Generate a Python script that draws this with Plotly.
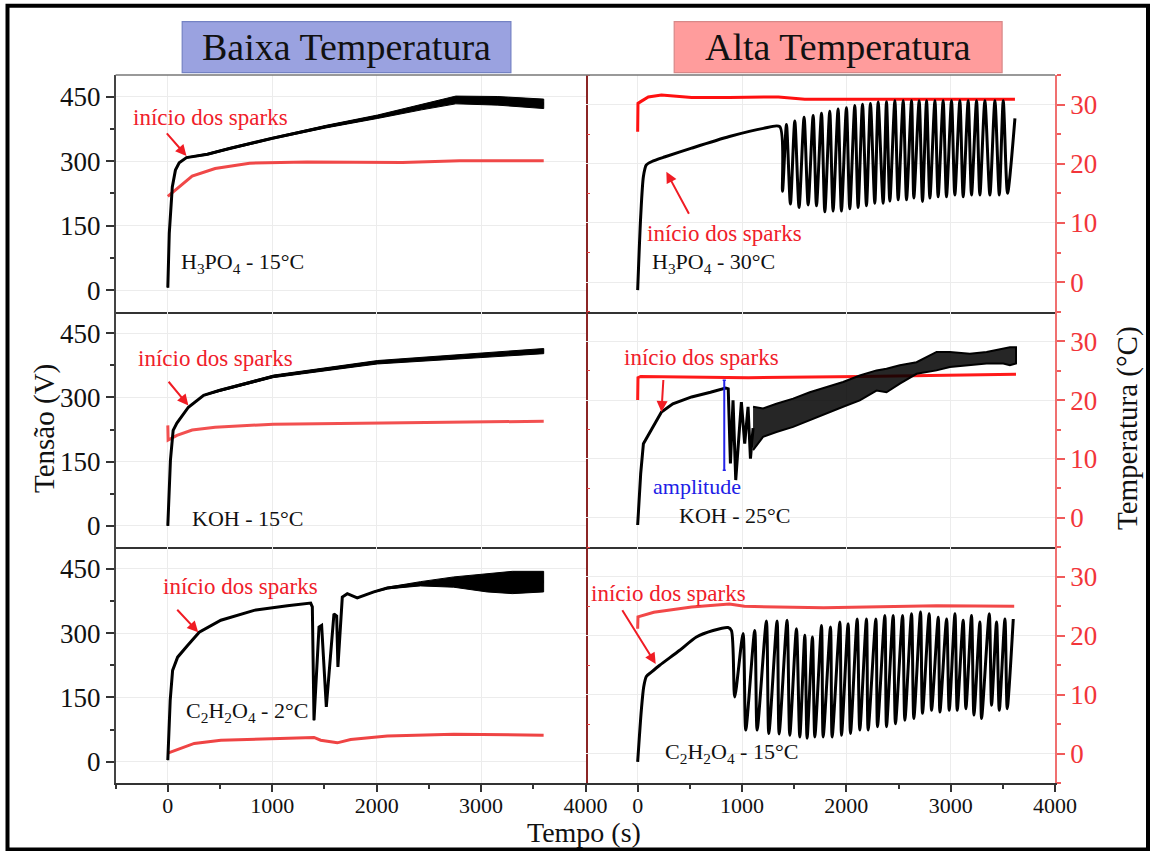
import plotly.graph_objects as go

W, H = 1151, 851
SERIF = "Liberation Serif"

# ---------------- data: time (s), tension (V), temperature (°C) ----------------
# H3PO4 - 15 °C
h3_15_t = [0, 14, 43, 73, 109, 179, 380, 600, 1002, 1514, 2008, 2429, 2758, 3161, 3600]
h3_15_v = [6, 132, 240, 279, 296, 308, 316, 330, 353, 380, 403, 425, 442, 440, 433]
h3_15_noise = [0, 0, 0, 0, 0, 1, 2, 2, 2, 3, 4, 6, 9, 10, 11]
h3_15_temp_t = [0, 87, 233, 453, 783, 1332, 2246, 2795, 3600]
h3_15_temp = [14.5, 15.8, 17.9, 19.2, 20.1, 20.3, 20.2, 20.5, 20.5]

# H3PO4 - 30 °C
h3_30_t = [0, 29, 55, 83, 137, 264, 517, 879, 1204, 1362,
           1388, 1426, 1464, 1506, 1547, 1595, 1634, 1682, 1714, 1762, 1794, 1841, 1873, 1921,
           1953, 2001, 2033, 2081, 2113, 2155, 2193, 2231, 2273, 2305, 2353, 2385, 2417, 2465,
           2497, 2545, 2577, 2625, 2647, 2698, 2730, 2769, 2801, 2849, 2880, 2928, 2960, 3008,
           3040, 3088, 3120, 3168, 3200, 3248, 3280, 3328, 3376, 3424, 3466, 3504, 3545, 3616]
h3_30_v = [0, 171, 264, 291, 299, 310, 330, 357, 376, 380,
           230, 385, 200, 393, 192, 402, 198, 406, 196, 411, 182, 416, 184, 421,
           184, 424, 189, 429, 192, 432, 196, 434, 202, 437, 202, 438, 207, 440,
           210, 440, 210, 440, 214, 440, 206, 440, 214, 440, 217, 440, 217, 440,
           221, 440, 217, 440, 221, 440, 221, 440, 221, 440, 221, 440, 225, 399]
h3_30_temp_t = [0, 3, 29, 102, 228, 517, 879, 1349, 1602, 2505, 3616]
h3_30_temp = [25.4, 30.2, 30.5, 31.3, 31.6, 31.2, 31.2, 31.3, 30.9, 30.9, 30.9]

# KOH - 15 °C
koh_15_t = [0, 25, 51, 87, 197, 343, 490, 1010, 2008, 2996, 3600]
koh_15_v = [0, 153, 223, 240, 277, 305, 316, 349, 382, 398, 408]
koh_15_noise = [0, 0, 0, 0, 0, 1, 2, 3, 4, 5, 6]
koh_15_temp_t = [0, 3, 87, 233, 453, 1010, 2063, 3600]
koh_15_temp = [15.7, 13.2, 14.0, 14.9, 15.4, 15.9, 16.1, 16.4]

# KOH - 25 °C
koh_25_t = [0, 29, 55, 102, 228, 337, 517, 698, 843, 868, 889, 914, 940, 994, 1026, 1058, 1081, 1106]
koh_25_v = [2, 122, 192, 212, 266, 285, 301, 312, 322, 320, 146, 293, 107, 289, 192, 278, 157, 228]
koh_25_band_t = [1106, 1202, 1330, 1490, 1650, 1810, 1969, 2129, 2289, 2385, 2513, 2673, 2865,
                 2992, 3184, 3344, 3504, 3568, 3626]
koh_25_band_hi = [278, 274, 285, 297, 312, 324, 336, 351, 363, 367, 375, 382, 406, 406, 402, 406, 413, 417, 417]
koh_25_band_lo = [177, 208, 219, 231, 246, 262, 278, 293, 316, 312, 332, 355, 363, 371, 375, 379, 379, 375, 379]
koh_25_temp_t = [0, 3, 29, 1060, 2144, 3626]
koh_25_temp = [20.0, 23.8, 24.0, 23.8, 24.0, 24.4]

# C2H2O4 - 2 °C
c2_2_t = [0, 23, 46, 94, 189, 301, 508, 826, 1145, 1368, 1384, 1400, 1448, 1473, 1518, 1591,
          1617, 1629, 1671, 1719, 1814, 1973, 2102, 2420, 2738, 3057, 3300, 3599]
c2_2_v = [4, 144, 213, 244, 271, 302, 330, 353, 364, 370, 361, 97, 314, 318, 128, 345,
          340, 221, 384, 392, 382, 396, 405, 415, 419, 417, 418, 420]
c2_2_noise = [0, 0, 0, 0, 0, 0, 0, 0, 0, 0, 0, 0, 0, 0, 0, 0,
              0, 0, 0, 0, 0, 1, 2, 5, 12, 21, 26, 24]
c2_2_temp_t = [0, 94, 253, 508, 986, 1400, 1464, 1623, 1751, 2102, 2738, 3599]
c2_2_temp = [0.1, 0.74, 1.76, 2.3, 2.6, 2.77, 2.3, 1.86, 2.43, 3.0, 3.3, 3.16]

# C2H2O4 - 15 °C
c2_15_t = [0, 35, 58, 83, 131, 211, 403, 563, 723, 866, 899,
           930, 1010, 1036, 1122, 1145, 1234, 1257, 1336, 1356, 1432, 1458, 1522, 1554, 1602,
           1624, 1675, 1698, 1762, 1778, 1848, 1864, 1938, 1954, 2017, 2040, 2104, 2129, 2193,
           2209, 2283, 2299, 2369, 2385, 2449, 2471, 2539, 2561, 2625, 2647, 2711, 2730, 2794,
           2817, 2881, 2897, 2961, 2986, 3041, 3063, 3120, 3146, 3200, 3223, 3280, 3296, 3370,
           3392, 3440, 3466, 3520, 3542, 3600]
c2_15_v = [0, 120, 175, 199, 209, 225, 260, 291, 306, 313, 306,
           151, 299, 74, 306, 74, 328, 66, 328, 65, 330, 62, 310, 58, 295,
           55, 291, 58, 318, 58, 314, 58, 326, 62, 322, 66, 333, 74, 333,
           74, 333, 82, 341, 82, 341, 89, 341, 97, 345, 101, 349, 113, 345,
           120, 337, 116, 333, 120, 345, 120, 330, 124, 341, 109, 326, 101, 345,
           132, 326, 120, 333, 124, 333]
c2_15_temp_t = [0, 3, 155, 517, 879, 1023, 1783, 2867, 3609]
c2_15_temp = [21.2, 23.2, 24.0, 24.9, 25.4, 25.0, 24.75, 25.1, 25.0]

# axis settings
T_RANGE = [-500, 4000]
V_RANGE = [-50, 500]
TEMP_RANGE = [-5, 35]

# --------------------------------------------------------------------------------
def px_x(p):
    return p / W

def px_y(p):
    return 1 - p / H

XDOM = [[px_x(115.6), px_x(585.5)], [px_x(585.5), px_x(1055)]]
ROWS = [(75, 311.7), (311.7, 547.3), (547.3, 783.3)]
YDOM = [[px_y(b), px_y(t)] for t, b in ROWS]

fig = go.Figure()
layout = dict(
    width=W, height=H, autosize=False, margin=dict(l=0, r=0, t=0, b=0, pad=0),
    paper_bgcolor="white", plot_bgcolor="white", showlegend=False,
    font=dict(family=SERIF, color="#111"),
)

GRID = "#ececec"
RED_LBL = "#f2353a"

def refs(k):
    x = "x" if k == 1 else f"x{k}"
    xa = "xaxis" if k == 1 else f"xaxis{k}"
    tb, vb = 2 * k - 1, 2 * k
    ty = "y" if tb == 1 else f"y{tb}"
    tya = "yaxis" if tb == 1 else f"yaxis{tb}"
    return x, xa, ty, tya, f"y{vb}", f"yaxis{vb}"

panels = [
    dict(row=0, col=0, t=h3_15_t, v=h3_15_v, n=h3_15_noise, tt=h3_15_temp_t, tv=h3_15_temp, rc="#f04848", osc=False),
    dict(row=0, col=1, t=h3_30_t, v=h3_30_v, n=None, tt=h3_30_temp_t, tv=h3_30_temp, rc="#ff1010", osc=True),
    dict(row=1, col=0, t=koh_15_t, v=koh_15_v, n=koh_15_noise, tt=koh_15_temp_t, tv=koh_15_temp, rc="#f25050", osc=False),
    dict(row=1, col=1, t=koh_25_t, v=koh_25_v, n=None, tt=koh_25_temp_t, tv=koh_25_temp, rc="#ff1a1a", osc=False),
    dict(row=2, col=0, t=c2_2_t, v=c2_2_v, n=c2_2_noise, tt=c2_2_temp_t, tv=c2_2_temp, rc="#ef4444", osc=False),
    dict(row=2, col=1, t=c2_15_t, v=c2_15_v, n=None, tt=c2_15_temp_t, tv=c2_15_temp, rc="#f24848", osc=True),
]

for k, p in enumerate(panels, start=1):
    x, xa, ty, tya, vy, vya = refs(k)
    bottom = p["row"] == 2
    left = p["col"] == 0
    layout[xa] = dict(
        domain=XDOM[p["col"]], anchor=ty, range=T_RANGE, tick0=0, dtick=1000, automargin=False,
        showgrid=True, gridcolor=GRID, gridwidth=1, zeroline=False,
        showline=True, linecolor="#333", linewidth=1.5,
        ticks="outside" if bottom else "", ticklen=7, tickwidth=1.5, tickcolor="#333",
        showticklabels=bottom, tickfont=dict(family=SERIF, size=22, color="#111"),
        ticklabelstandoff=-5,
        minor=dict(ticks="outside" if bottom else "", ticklen=4, dtick=500, tick0=0,
                   tickcolor="#333", showgrid=False),
    )
    # temperature axis (base)
    if left:
        layout[tya] = dict(
            domain=YDOM[p["row"]], anchor=x, side="right", range=TEMP_RANGE, tick0=0, dtick=10,
            automargin=False,
            showgrid=False, zeroline=False, showline=True, linecolor="#8b2525", linewidth=1.5,
            ticks="outside", ticklen=6, tickwidth=1.2, tickcolor="#e04040", showticklabels=False,
            minor=dict(ticks="outside", ticklen=3, dtick=5, tick0=0, tickcolor="#e04040", showgrid=False),
        )
    else:
        layout[tya] = dict(
            domain=YDOM[p["row"]], anchor=x, side="right", range=TEMP_RANGE, tick0=0, dtick=10,
            automargin=False,
            showgrid=True, gridcolor=GRID, zeroline=False, showline=True, linecolor="#f07070",
            linewidth=1.5, ticks="outside", ticklen=8, tickwidth=1.5, tickcolor="#f05a5a",
            tickfont=dict(family=SERIF, size=27, color=RED_LBL),
            minor=dict(ticks="outside", ticklen=4, dtick=5, tick0=0, tickcolor="#f05a5a", showgrid=False),
        )
    # tension axis (overlay, drawn above)
    if left:
        layout[vya] = dict(
            overlaying=ty, anchor=x, side="left", range=V_RANGE, tick0=0, dtick=150,
            automargin=False,
            showgrid=True, gridcolor=GRID, zeroline=False, showline=True, linecolor="#444",
            linewidth=1.5, ticks="outside", ticklen=8, tickwidth=1.5, tickcolor="#333",
            tickfont=dict(family=SERIF, size=27, color="#111"),
            minor=dict(ticks="outside", ticklen=4, dtick=75, tick0=0, tickcolor="#333", showgrid=False),
        )
    else:
        layout[vya] = dict(overlaying=ty, anchor=x, range=V_RANGE, visible=False, automargin=False)

    # temperature curve
    fig.add_trace(go.Scatter(x=p["tt"], y=p["tv"], xaxis=x, yaxis=ty, mode="lines",
                             line=dict(color=p["rc"], width=3), hoverinfo="skip"))
    # noise band of the tension signal
    if p["n"] is not None:
        hi = [a + b for a, b in zip(p["v"], p["n"])]
        lo = [a - b for a, b in zip(p["v"], p["n"])]
        fig.add_trace(go.Scatter(x=p["t"] + p["t"][::-1], y=hi + lo[::-1], xaxis=x, yaxis=vy,
                                 mode="lines", fill="toself", fillcolor="black",
                                 line=dict(color="black", width=1), hoverinfo="skip"))
    if k == 4:
        fig.add_trace(go.Scatter(x=koh_25_band_t + koh_25_band_t[::-1],
                                 y=koh_25_band_hi + koh_25_band_lo[::-1], xaxis=x, yaxis=vy,
                                 mode="lines", fill="toself", fillcolor="rgba(0,0,0,0.85)",
                                 line=dict(color="black", width=2), hoverinfo="skip"))
    line = dict(color="black", width=3)
    if p["osc"]:
        line.update(shape="spline", smoothing=0.7)
    fig.add_trace(go.Scatter(x=p["t"], y=p["v"], xaxis=x, yaxis=vy, mode="lines",
                             line=line, hoverinfo="skip"))

# ---------------- annotations ----------------
ann = []
RED_TXT = "#f0202a"

def txt(k, t, v, s, color="#111", size=22):
    x, _, _, _, vy, _ = refs(k)
    ann.append(dict(x=t, y=v, xref=x, yref=vy, text=s, showarrow=False,
                    font=dict(family=SERIF, size=size, color=color), xanchor="center", yanchor="middle"))

def arrow(k, t0, v0, t1, v1):
    x, _, _, _, vy, _ = refs(k)
    ann.append(dict(x=t1, y=v1, ax=t0, ay=v0, xref=x, yref=vy, axref=x, ayref=vy, text="",
                    showarrow=True, arrowhead=2, arrowsize=1.1, arrowwidth=2, arrowcolor="#f01c24",
                    standoff=0, startstandoff=0))

spark = "início dos sparks"
txt(1, 412, 402, spark, RED_TXT, 23)
arrow(1, -22, 368, 179, 312)
txt(1, 713, 63, "H<sub>3</sub>PO<sub>4</sub> - 15°C")

txt(2, 834, 132, spark, RED_TXT, 23)
arrow(2, 499, 174, 275, 275)
txt(2, 731, 63, "H<sub>3</sub>PO<sub>4</sub> - 30°C")

txt(3, 453, 391, spark, RED_TXT, 23)
arrow(3, -4, 340, 197, 281)
txt(3, 763, 18, "KOH - 15°C")

txt(4, 608, 393, spark, RED_TXT, 23)
arrow(4, 247, 344, 228, 266)
txt(4, 566, 91, "amplitude", "#2020e6", 22)
txt(4, 932, 25, "KOH - 25°C")

txt(5, 699, 409, spark, RED_TXT, 23)
arrow(5, 77, 358, 291, 302)
txt(5, 759, 116, "C<sub>2</sub>H<sub>2</sub>O<sub>4</sub> - 2°C")

txt(6, 300, 393, spark, RED_TXT, 23)
arrow(6, -156, 357, 173, 228)
txt(6, 902, 20, "C<sub>2</sub>H<sub>2</sub>O<sub>4</sub> - 15°C")

# titles
ann.append(dict(x=px_x(346.5), y=px_y(47), xref="paper", yref="paper", text="Baixa Temperatura",
                showarrow=False, font=dict(family=SERIF, size=38, color="#111"),
                xanchor="center", yanchor="middle"))
ann.append(dict(x=px_x(838), y=px_y(47), xref="paper", yref="paper", text="Alta Temperatura",
                showarrow=False, font=dict(family=SERIF, size=38, color="#111"),
                xanchor="center", yanchor="middle"))
# axis titles
ann.append(dict(x=px_x(44), y=px_y(429), xref="paper", yref="paper", text="Tensão (V)",
                textangle=-90, showarrow=False, font=dict(family=SERIF, size=29, color="#111"),
                xanchor="center", yanchor="middle"))
ann.append(dict(x=px_x(1127), y=px_y(428), xref="paper", yref="paper", text="Temperatura (°C)",
                textangle=-90, showarrow=False, font=dict(family=SERIF, size=29, color="#111"),
                xanchor="center", yanchor="middle"))
ann.append(dict(x=px_x(584), y=px_y(832), xref="paper", yref="paper", text="Tempo (s)",
                showarrow=False, font=dict(family=SERIF, size=28, color="#111"),
                xanchor="center", yanchor="middle"))
layout["annotations"] = ann

# shapes
shapes = [
    dict(type="rect", xref="paper", yref="paper", x0=px_x(182.2), x1=px_x(510.9),
         y0=px_y(72.7), y1=px_y(21.7), fillcolor="#9aa2e0", line=dict(color="#7482c4", width=1.2),
         layer="below"),
    dict(type="rect", xref="paper", yref="paper", x0=px_x(674.2), x1=px_x(1002.1),
         y0=px_y(72.7), y1=px_y(21.7), fillcolor="#ff9c9c", line=dict(color="#d88888", width=1.2),
         layer="below"),
    dict(type="line", xref="paper", yref="paper", x0=px_x(115.6), x1=px_x(1055),
         y0=px_y(75), y1=px_y(75), line=dict(color="#777", width=1.5)),
    dict(type="rect", xref="paper", yref="paper", x0=px_x(7.5), x1=px_x(1148),
         y0=px_y(849.5), y1=px_y(5.7), line=dict(color="black", width=4)),
]
# amplitude marker (panel 4)
shapes.append(dict(type="line", xref="x4", yref="y8", x0=830, x1=830, y0=340, y1=130,
                   line=dict(color="#2424e8", width=2)))
shapes.append(dict(type="line", xref="x4", yref="y8", x0=815, x1=845, y0=340, y1=340,
                   line=dict(color="#2424e8", width=1.5)))
shapes.append(dict(type="line", xref="x4", yref="y8", x0=815, x1=845, y0=130, y1=130,
                   line=dict(color="#2424e8", width=1.5)))
layout["shapes"] = shapes

fig.update_layout(**layout)
fig.write_html("out.html")
